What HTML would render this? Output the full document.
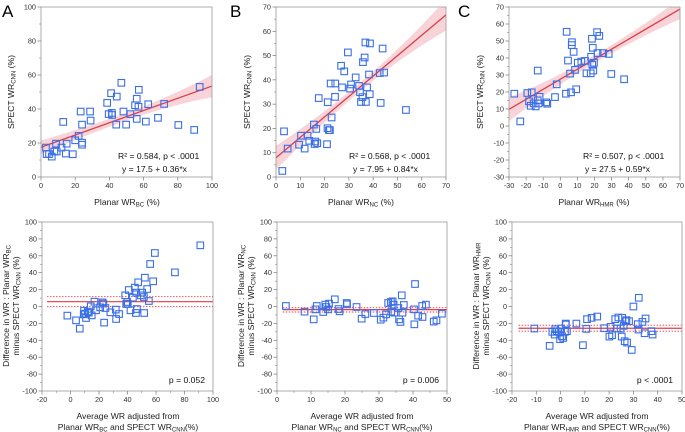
<!DOCTYPE html>
<html><head><meta charset="utf-8"><style>
body{margin:0;background:#fff}
svg{display:block;font-family:"Liberation Sans",sans-serif}
.t{font-size:7.3px;fill:#333}
.ti{font-size:8.6px;fill:#222}
.an{font-size:8.6px;fill:#111}
</style></head><body>
<svg id="fig" width="685" height="432" viewBox="0 0 685 432"></svg>
<script>
// ---------- data ----------
const aX=[2.9,3.3,4.7,6.3,7.8,8.8,9.2,12,13,14.5,15,18.6,20,22,23.2,24,24,24,28.7,29,38.7,39.6,41,41.4,41.6,44,44.3,47,48.2,49.8,52.3,55,56,56,57,57.2,61.3,62.7,68.4,72,80.3,89.6,92.8];
const aY=[17.3,13.5,13.5,12,15,19.6,15,17.3,32.4,13.8,19.6,13.4,21.6,24.2,38.5,30.8,20.2,19,38.5,33.2,43.6,37,49.3,37.7,36.5,30.8,47.3,55.4,38.5,30.8,37,42.2,46,34.2,41.3,51.3,32.6,42.8,34.8,43,30.6,27.7,53];
const bX=[2.6,3.3,4.8,9.5,10.3,11.8,13,13.7,15.6,15.9,16.2,16.6,17,17.6,21,21.2,21.3,21.8,22.2,22.5,22.9,24.3,24.4,26.8,27.2,28.1,29.6,30.5,30.9,32.8,34.2,34.6,35,35.6,35.8,36.5,36.8,37,37.5,38.3,38.6,38.7,42.7,43.1,43.9,44.5,53.5];
const bY=[2.5,18.8,11.7,13.3,17,11.7,17,14.9,21.6,13.6,14.6,19.8,13.9,32.5,13.5,20.1,30.8,19.3,19.3,38.5,24.5,33,38.5,45.8,36.9,43.5,51.3,36.4,38.1,41,37.5,34.9,30.9,32.9,47.3,49.2,55.4,30.9,36.9,42.2,34.1,55,42.8,30.5,52.9,43,27.6];
const cX=[-26.9,-23.4,-19.3,-18.3,-17.3,-16.7,-15.6,-14.4,-13.2,-13.2,-12.7,-12.1,-8.2,-7.6,-3.1,-2.1,3.3,3.7,4.5,5.7,6.3,6.7,6.8,7.8,8.6,9.3,10.2,12.3,14.4,15.3,17.8,18,18.5,18.7,19,19.3,19.7,21.5,21.8,22.8,25,28.3,29.8,37.3];
const cY=[19,2.7,19.4,14.5,11.9,19.8,13.3,11.5,32.6,15.1,13.3,17.2,13.9,13.1,17,24.5,19,55.4,38.5,30.8,19.8,47.6,49.3,43.6,33,21.6,37.2,37.9,38.3,31,31,40.7,51.3,36,46,32.6,37.2,55.2,42.9,53,42.9,42.4,30.6,27.5];
const dX=[-2.2,3.9,6.5,9.5,9.3,10.2,10.9,12.1,12.8,14.2,14.9,16.8,17.9,20.8,22.4,23.1,23.6,24.5,28,31.8,32,34.1,38.4,39.1,39.8,40.2,40.9,42.1,43.8,45.2,45.9,46.6,46.1,47.5,49.4,50.3,51.7,51.5,52.2,53.8,55,55.9,58,59.2,73.3,91.1];
const dY=[-10.8,-16.4,-26.2,-4.9,-9.3,-8.5,-13.6,-6.1,-7.3,0.2,-10.5,5.7,-4.5,-1,4.9,3.4,-19.1,-1.8,-6.9,-3.7,-14.8,-8.9,13.2,3,5.3,3,19.5,-4.5,10.5,22.3,-7.7,-3,16.4,28.6,13.2,16.4,-7.7,11.2,34.1,20.7,6.5,50.3,29.8,63.3,40.4,72.4];
const eX=[2.6,8.1,10.8,11.3,11.7,13.6,14.2,14.5,15,15.3,17,18.1,18.4,20.5,20.6,23.4,24.9,26,28.5,30.5,31.3,32.1,32.7,33.5,33.6,34,34.3,34.5,35.7,35.9,36.3,36.7,36.9,37.3,40.3,40.4,40.6,41.5,42.8,42.7,43.8,46.1,46.9,48.5];
const eY=[0.6,-6.1,-15.2,-3.4,0.6,-6.5,2.2,-0.6,-3.4,3.4,8.5,-3,-5.7,4.1,2.6,-0.6,-14.4,-8.9,-7.7,-15.6,-13.2,-9.3,4.1,5.3,-6.1,6.1,2.2,-7.3,-1.8,-15.2,-18.3,13.2,-7.3,1.8,-3.4,-21.1,26.6,-10.8,-12.4,0.6,2.2,-17.9,-16.4,-8.5];
const fX=[-10.8,-4.5,-3.4,-2.4,-2.2,-1.6,-0.8,-0.2,0.2,0.6,1.1,1.8,2.1,2.2,2.6,6.5,9.2,10.6,10.9,12.8,15.1,18,20.1,20.6,21.2,22.5,23.1,23.8,24.7,25.2,25.4,26,26.4,26.7,27.1,27.4,28.2,29.3,30,31.8,32.2,32.1,33.7,34.6,35,37.4,37.9];
const fY=[-26.1,-46.6,-30,-33.2,-26.9,-29.2,-30,-38.7,-26.1,-35.2,-37.2,-30,-21.3,-20.2,-29.2,-20.2,-45.8,-26.5,-15,-13.4,-11.9,-25.7,-35.6,-24.1,-34,-15,-26.1,-13,-26.1,-35.6,-13.4,-22.9,-41.1,-17.4,-16.2,-42.7,-17.4,-51.4,0,-20.9,10.3,-27.3,-18.2,-31.6,-14.2,-29.2,-33.2];
// regression: intercept, slope, CI half-width at ends/mid
const regA=[17.5,0.36,4,2.3,6.6], regB=[7.95,0.84,4.9,1.8,6.5], regC=[27.5,0.59,7,2.3,6];
// Bland-Altman: mean, upper, lower
const baA=[5.7,11.6,-0.2], baB=[-3.7,-1.4,-6.5], baC=[-25.7,-22.1,-29.2];

const NS="http://www.w3.org/2000/svg", svg=document.getElementById('fig');
function mk(tag,at,txt,parent){const e=document.createElementNS(NS,tag);for(const k in at)e.setAttribute(k,at[k]);if(txt!=null)e.textContent=txt;(parent||svg).appendChild(e);return e;}

function panel(p){
  const g=mk('g',{});
  
  
  const sx=v=>p.L+(v-p.x0)/(p.x1-p.x0)*(p.R-p.L);
  const sy=v=>p.B-(v-p.y0)/(p.y1-p.y0)*(p.B-p.T);
  if(p.reg){
    const [a,b,h0,hm,h1]=p.reg, xm=(p.x0+p.x1)/2;
    const hw=x=>{const t=(x-xm)/((p.x1-p.x0)/2);return hm+(t<0?(h0-hm):(h1-hm))*t*t;};
    let up=[],lo=[];
    for(let i=0;i<=40;i++){const x=p.x0+(p.x1-p.x0)*i/40;let yc=a+b*x;
      up.push(sx(x)+','+Math.max(p.T,sy(yc+hw(x))));lo.unshift(sx(x)+','+Math.min(p.B,sy(yc-hw(x))));}
    const band=mk('polygon',{points:up.concat(lo).join(' '),fill:'#f6c9cf',opacity:0.8},null,g);
    
    
    let ye=a+b*p.x1, xe=p.x1; if(ye>p.y1){xe=(p.y1-a)/b;ye=p.y1;}
    const ln=mk('line',{x1:sx(p.x0),y1:sy(a+b*p.x0),x2:sx(xe),y2:sy(ye),stroke:'#d9404b','stroke-width':1.3},null,g);
    
    
  }
  if(p.ba){
    const xs=sx(p.baStart);
    [[p.ba[0],'none'],[p.ba[1],'1.5,1.5'],[p.ba[2],'1.5,1.5']].forEach((q,i)=>{
      const l=mk('line',{x1:xs,x2:p.R,y1:sy(q[0]),y2:sy(q[0]),stroke:'#e23b47','stroke-width':i?0.9:1.2,'stroke-dasharray':q[1]},null,g);
      
      
    });
  }
  const fr=mk('rect',{x:p.L,y:p.T,width:p.R-p.L,height:p.B-p.T,fill:'none',stroke:'#9a9a9a','stroke-width':0.8},null,g);
  
  
  for(let v=p.y0;v<=p.y1+1e-9;v+=p.ys){
    mk('line',{x1:p.L-3.5,x2:p.L,y1:sy(v),y2:sy(v),stroke:'#777','stroke-width':0.7},null,g);
    const t=mk('text',{x:p.L-5,y:sy(v)+2.5,'text-anchor':'end',class:'t'},String(v),g);
    
    
    if(v+p.ys/2<p.y1) mk('line',{x1:p.L-2,x2:p.L,y1:sy(v+p.ys/2),y2:sy(v+p.ys/2),stroke:'#888','stroke-width':0.6},null,g);
  }
  for(let v=p.x0;v<=p.x1+1e-9;v+=p.xs){
    mk('line',{x1:sx(v),x2:sx(v),y1:p.B,y2:p.B+3.5,stroke:'#777','stroke-width':0.7},null,g);
    const t=mk('text',{x:sx(v),y:p.B+11,'text-anchor':'middle',class:'t'},String(v),g);
    
    
    if(p.xm && v+p.xs/2<p.x1) mk('line',{x1:sx(v+p.xs/2),x2:sx(v+p.xs/2),y1:p.B,y2:p.B+2,stroke:'#888','stroke-width':0.6},null,g);
  }
  p.X.forEach((x,i)=>{
    const r=mk('rect',{x:sx(x)-3.3,y:sy(p.Y[i])-3.3,width:6.6,height:6.6,fill:'none',stroke:'#3b6fe6','stroke-width':1.1},null,g);
    
    
  });
  return g;
}
const topP={T:7,B:177};
const botP={T:222,B:391};
panel({name:'panel-a-scatter',L:41,R:212,...topP,x0:0,x1:100,xs:20,y0:0,y1:100,ys:20,X:aX,Y:aY,reg:regA});
panel({name:'panel-b-scatter',L:276,R:446,...topP,x0:0,x1:70,xs:10,y0:0,y1:70,ys:10,X:bX,Y:bY,reg:regB});
panel({name:'panel-c-scatter',L:509,R:680,...topP,x0:-30,x1:70,xs:10,y0:-30,y1:70,ys:10,X:cX,Y:cY,reg:regC});
panel({name:'panel-a-bland-altman',L:42,R:213,...botP,x0:-20,x1:100,xs:20,xm:1,y0:-100,y1:100,ys:20,X:dX,Y:dY,ba:baA,baStart:-16.5});
panel({name:'panel-b-bland-altman',L:277,R:447,...botP,x0:0,x1:50,xs:10,xm:1,y0:-100,y1:100,ys:20,X:eX,Y:eY,ba:baB,baStart:1.7});
panel({name:'panel-c-bland-altman',L:512,R:682,...botP,x0:-20,x1:50,xs:10,y0:-100,y1:100,ys:20,X:fX,Y:fY,ba:baC,baStart:-17.3});
</script>
<svg width="685" height="432" style="position:absolute;left:0;top:0">
<g font-family="Liberation Sans, sans-serif">
<text x="2" y="17" font-size="17">A</text>
<text x="230" y="17" font-size="17">B</text>
<text x="458" y="17" font-size="17">C</text>

<g class="ti"><text transform="translate(14,92) rotate(-90)" text-anchor="middle">SPECT WR<tspan font-size="6" dy="1.5">CNN</tspan><tspan dy="-1.5"> (%)</tspan></text></g>
<g class="ti"><text transform="translate(250,92) rotate(-90)" text-anchor="middle">SPECT WR<tspan font-size="6" dy="1.5">CNN</tspan><tspan dy="-1.5"> (%)</tspan></text></g>
<g class="ti"><text transform="translate(483,92) rotate(-90)" text-anchor="middle">SPECT WR<tspan font-size="6" dy="1.5">CNN</tspan><tspan dy="-1.5"> (%)</tspan></text></g>

<text class="ti" x="127" y="205" text-anchor="middle">Planar WR<tspan font-size="6" dy="1.5">BC</tspan><tspan dy="-1.5"> (%)</tspan></text>
<text class="ti" x="361" y="205" text-anchor="middle">Planar WR<tspan font-size="6" dy="1.5">NC</tspan><tspan dy="-1.5"> (%)</tspan></text>
<text class="ti" x="594" y="205" text-anchor="middle">Planar WR<tspan font-size="6" dy="1.5">HMR</tspan><tspan dy="-1.5"> (%)</tspan></text>

<text class="an" x="118" y="159">R² = 0.584, p &lt; .0001</text>
<text class="an" x="122" y="172">y = 17.5 + 0.36*x</text>
<text class="an" x="349" y="159">R² = 0.568, p &lt; .0001</text>
<text class="an" x="353" y="172">y = 7.95 + 0.84*x</text>
<text class="an" x="583" y="159">R² = 0.507, p &lt; .0001</text>
<text class="an" x="585" y="172">y = 27.5 + 0.59*x</text>

<g class="ti">
<text transform="translate(9,306) rotate(-90)" text-anchor="middle">Difference in WR : Planar WR<tspan font-size="6" dy="1.5">BC</tspan></text>
<text transform="translate(19,306) rotate(-90)" text-anchor="middle">minus SPECT WR<tspan font-size="6" dy="1.5">CNN</tspan><tspan dy="-1.5"> (%)</tspan></text></g>
<g class="ti">
<text transform="translate(244,306) rotate(-90)" text-anchor="middle">Difference in WR : Planar WR<tspan font-size="6" dy="1.5">NC</tspan></text>
<text transform="translate(254,306) rotate(-90)" text-anchor="middle">minus SPECT WR<tspan font-size="6" dy="1.5">CNN</tspan><tspan dy="-1.5"> (%)</tspan></text></g>
<g class="ti">
<text transform="translate(479,306) rotate(-90)" text-anchor="middle">Difference in WR : Planar WR<tspan font-size="6" dy="1.5">HMR</tspan></text>
<text transform="translate(489,306) rotate(-90)" text-anchor="middle">minus SPECT WR<tspan font-size="6" dy="1.5">CNN</tspan><tspan dy="-1.5"> (%)</tspan></text></g>

<g class="ti" text-anchor="middle">
<text x="128" y="419">Average WR adjusted from</text>
<text x="128" y="430">Planar WR<tspan font-size="6" dy="1.5">BC</tspan><tspan dy="-1.5"> and SPECT WR</tspan><tspan font-size="6" dy="1.5">CNN</tspan><tspan dy="-1.5">(%)</tspan></text></g>
<g class="ti" text-anchor="middle">
<text x="362" y="419">Average WR adjusted from</text>
<text x="362" y="430">Planar WR<tspan font-size="6" dy="1.5">NC</tspan><tspan dy="-1.5"> and SPECT WR</tspan><tspan font-size="6" dy="1.5">CNN</tspan><tspan dy="-1.5">(%)</tspan></text></g>
<g class="ti" text-anchor="middle">
<text x="597" y="419">Average WR adjusted from</text>
<text x="597" y="430">Planar WR<tspan font-size="6" dy="1.5">HMR</tspan><tspan dy="-1.5"> and SPECT WR</tspan><tspan font-size="6" dy="1.5">CNN</tspan><tspan dy="-1.5">(%)</tspan></text></g>

<text class="an" x="205" y="383" text-anchor="end">p = 0.052</text>
<text class="an" x="439" y="383" text-anchor="end">p = 0.006</text>
<text class="an" x="673" y="383" text-anchor="end">p &lt; .0001</text>
</g></svg>
</body></html>
